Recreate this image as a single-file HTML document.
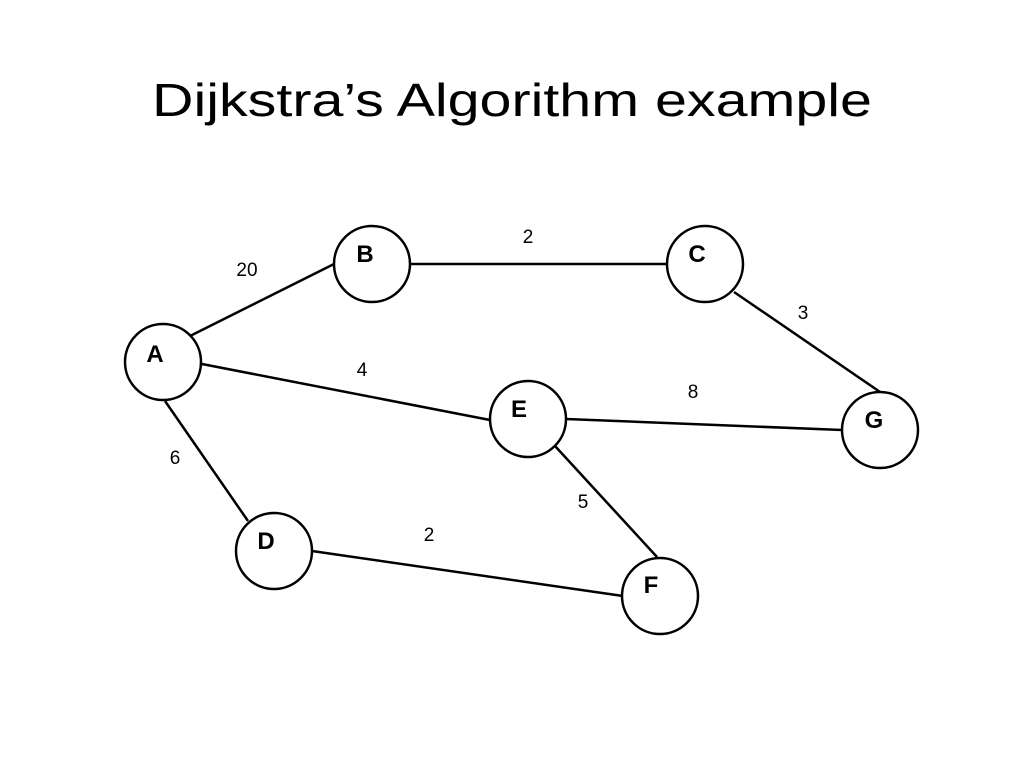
<!DOCTYPE html>
<html><head><meta charset="utf-8"><style>
html,body{margin:0;padding:0;background:#fff;}
svg{display:block;}
</style></head><body>
<svg width="1024" height="768" viewBox="0 0 1024 768" xmlns="http://www.w3.org/2000/svg" font-family="Liberation Sans, sans-serif">
<rect width="1024" height="768" fill="#fff"/>
<text x="152" y="116" font-size="46" textLength="720" lengthAdjust="spacingAndGlyphs" fill="#000">Dijkstra’s Algorithm example</text>
<g stroke="#000" stroke-width="2.5" fill="none">
<line x1="190" y1="336" x2="336" y2="263"/>
<line x1="411" y1="264" x2="667" y2="264"/>
<line x1="734" y1="292" x2="883" y2="394"/>
<line x1="202" y1="364" x2="490" y2="420"/>
<line x1="566" y1="419" x2="842" y2="430"/>
<line x1="165" y1="401" x2="248" y2="521"/>
<line x1="555" y1="446" x2="657" y2="557"/>
<line x1="312" y1="551" x2="623" y2="596"/>
</g>
<g stroke="#000" stroke-width="2.5" fill="#fff">
<circle cx="163" cy="362" r="38"/>
<circle cx="372" cy="264" r="38"/>
<circle cx="705" cy="264" r="38"/>
<circle cx="528" cy="419" r="38"/>
<circle cx="880" cy="430" r="38"/>
<circle cx="274" cy="551" r="38"/>
<circle cx="660" cy="596" r="38"/>
</g>
<g font-size="24" font-weight="bold" fill="#000" text-anchor="middle">
<text x="155" y="362">A</text>
<text x="365" y="262">B</text>
<text x="697" y="262">C</text>
<text x="519" y="417">E</text>
<text x="874" y="428">G</text>
<text x="266" y="549">D</text>
<text x="651" y="593">F</text>
</g>
<g font-size="19" fill="#000" text-anchor="middle">
<text x="247" y="276">20</text>
<text x="528" y="243">2</text>
<text x="803" y="319">3</text>
<text x="362" y="376">4</text>
<text x="693" y="398">8</text>
<text x="175" y="464">6</text>
<text x="583" y="508">5</text>
<text x="429" y="541">2</text>
</g>
</svg>
</body></html>
